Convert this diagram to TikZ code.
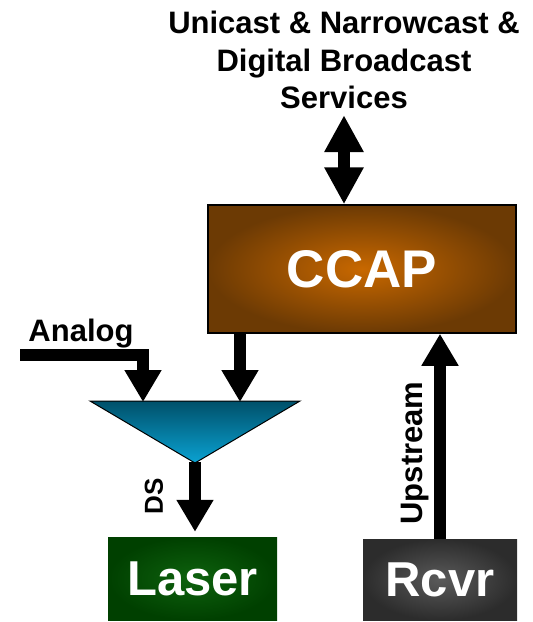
\documentclass[tikz,border=0pt]{standalone}
\usepackage{fontspec}
\setmainfont{Liberation Sans}
\usetikzlibrary{arrows.meta,positioning}
\definecolor{ccapin}{HTML}{C86800}
\definecolor{ccapout}{HTML}{6C3A04}
\definecolor{muxtop}{HTML}{00506A}
\definecolor{muxbot}{HTML}{0AA2D2}
\definecolor{laserin}{HTML}{0E620E}
\definecolor{laserout}{HTML}{004000}
\definecolor{rcvrin}{HTML}{5A5A5A}
\definecolor{rcvrout}{HTML}{2C2C2C}

\begin{document}
\begin{tikzpicture}[x=1pt,y=-1pt,
  box/.style={inner sep=0pt, text=white, font=\bfseries\fontsize{49}{49}\selectfont},
  lbl/.style={inner sep=0pt, align=center, font=\bfseries\fontsize{31}{37.5}\selectfont},
  small/.style={inner sep=0pt, font=\bfseries\fontsize{26}{26}\selectfont},
  fat/.style={line width=12pt, -{Triangle[width=35pt,length=32pt]}},
  twoway/.style={line width=12pt, {Triangle[width=37pt,length=37pt]}-{Triangle[width=37pt,length=37pt]}}]
\useasboundingbox (0,0) rectangle (533,622);

% services on top
\node[lbl, anchor=north] (svc) at (344,11) {Unicast \& Narrowcast \&\\Digital Broadcast\\Services};

% CCAP
\node[box, draw=black, line width=1.5pt, minimum width=308pt, minimum height=128pt,
      inner color=ccapin, outer color=ccapout] (ccap) at (362,269) {\fontsize{53}{53}\selectfont CCAP};

% combiner
\shade[top color=muxtop, bottom color=muxbot, draw=black, line width=1pt]
  (90,401) -- (300,401) -- (195,463) -- cycle;
\coordinate (mA) at (143,402);
\coordinate (mB) at (240,402);
\coordinate (mC) at (195,462);

% Laser and Rcvr
\node[box, minimum width=169pt, minimum height=83pt,
      inner color=laserin, outer color=laserout] (laser) at (192.5,578.5) {Laser};
\node[box, minimum width=154pt, minimum height=81pt,
      inner color=rcvrin, outer color=rcvrout] (rcvr) at (440,579.5) {Rcvr};

% labels
\node[lbl, anchor=base] (analog) at (81,341) {Analog};
\node[small, rotate=90] (ds) at (154,496) {DS};
\node[lbl, rotate=90] (up) at (415,453) {Upstream};

% arrows
\coordinate (ain) at (20,354.5);
\draw[twoway] ([yshift=-6pt]svc.south) -- (ccap.north -| svc.south);
\draw[fat] (ain) -| (mA);
\draw[fat] (ccap.south -| mB) -- (mB);
\draw[fat] (mC) -- ([yshift=5pt]mC |- laser.north);
\draw[fat] (rcvr.north) -- (rcvr.north |- ccap.south);

\end{tikzpicture}
\end{document}
